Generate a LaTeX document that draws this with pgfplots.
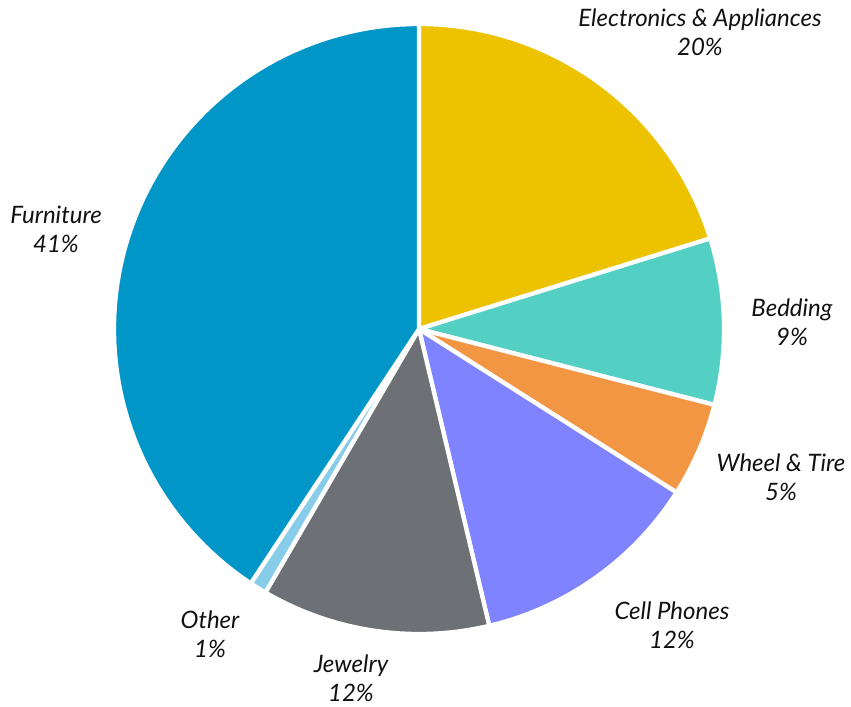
\documentclass[border=0pt]{standalone}
\usepackage{pgfplots}
\pgfplotsset{compat=1.18}
\usepackage{fontspec}
\setmainfont{Lato}
\definecolor{cElec}{HTML}{EDC200}
\definecolor{cBed}{HTML}{54CFC4}
\definecolor{cWheel}{HTML}{F39644}
\definecolor{cCell}{HTML}{8083FF}
\definecolor{cJewel}{HTML}{6D7075}
\definecolor{cOther}{HTML}{87CDEA}
\definecolor{cFurn}{HTML}{0096C8}
\definecolor{txt}{HTML}{111111}
\tikzset{lbl/.style={font=\itshape\fontsize{18}{21.75}\selectfont, text=txt, align=center, inner sep=0pt}}
% start (cumulative %), share (%), colour
\newcommand\slice[3]{%
  \pgfmathsetmacro\aS{90-3.6*(#1+#2)}%
  \pgfmathsetmacro\aE{90-3.6*#1}%
  \edef\temp{\noexpand\addplot[fill=#3, draw=white, line width=3.2pt, line join=round, data cs=polar, domain=\aS:\aE, samples=80] {305} -- (axis cs:0,0) -- cycle;}%
  \temp}
\begin{document}
\begin{tikzpicture}
\begin{axis}[
  scale only axis, width=638.25pt, height=530.25pt,
  xmin=-419, xmax=432, ymin=-378, ymax=329,
  hide axis, clip=false,
]
\slice{0}{20.2}{cElec}
\slice{20.2}{8.8}{cBed}
\slice{29.0}{5.0}{cWheel}
\slice{34.0}{12.3}{cCell}
\slice{46.3}{12.1}{cJewel}
\slice{58.4}{0.9}{cOther}
\slice{59.3}{40.7}{cFurn}
\node[lbl] at (axis cs:281,297) {Electronics \& Appliances\\20\%};
\node[lbl] at (axis cs:373,7) {Bedding\\9\%};
\node[lbl] at (axis cs:362,-148) {Wheel \& Tire\\5\%};
\node[lbl] at (axis cs:253,-296) {Cell Phones\\12\%};
\node[lbl] at (axis cs:-68,-349) {Jewelry\\12\%};
\node[lbl] at (axis cs:-209,-305) {Other\\1\%};
\node[lbl] at (axis cs:-363,100) {Furniture\\41\%};
\path (rel axis cs:0,0) rectangle (rel axis cs:1,1);
\end{axis}
\end{tikzpicture}
\end{document}
